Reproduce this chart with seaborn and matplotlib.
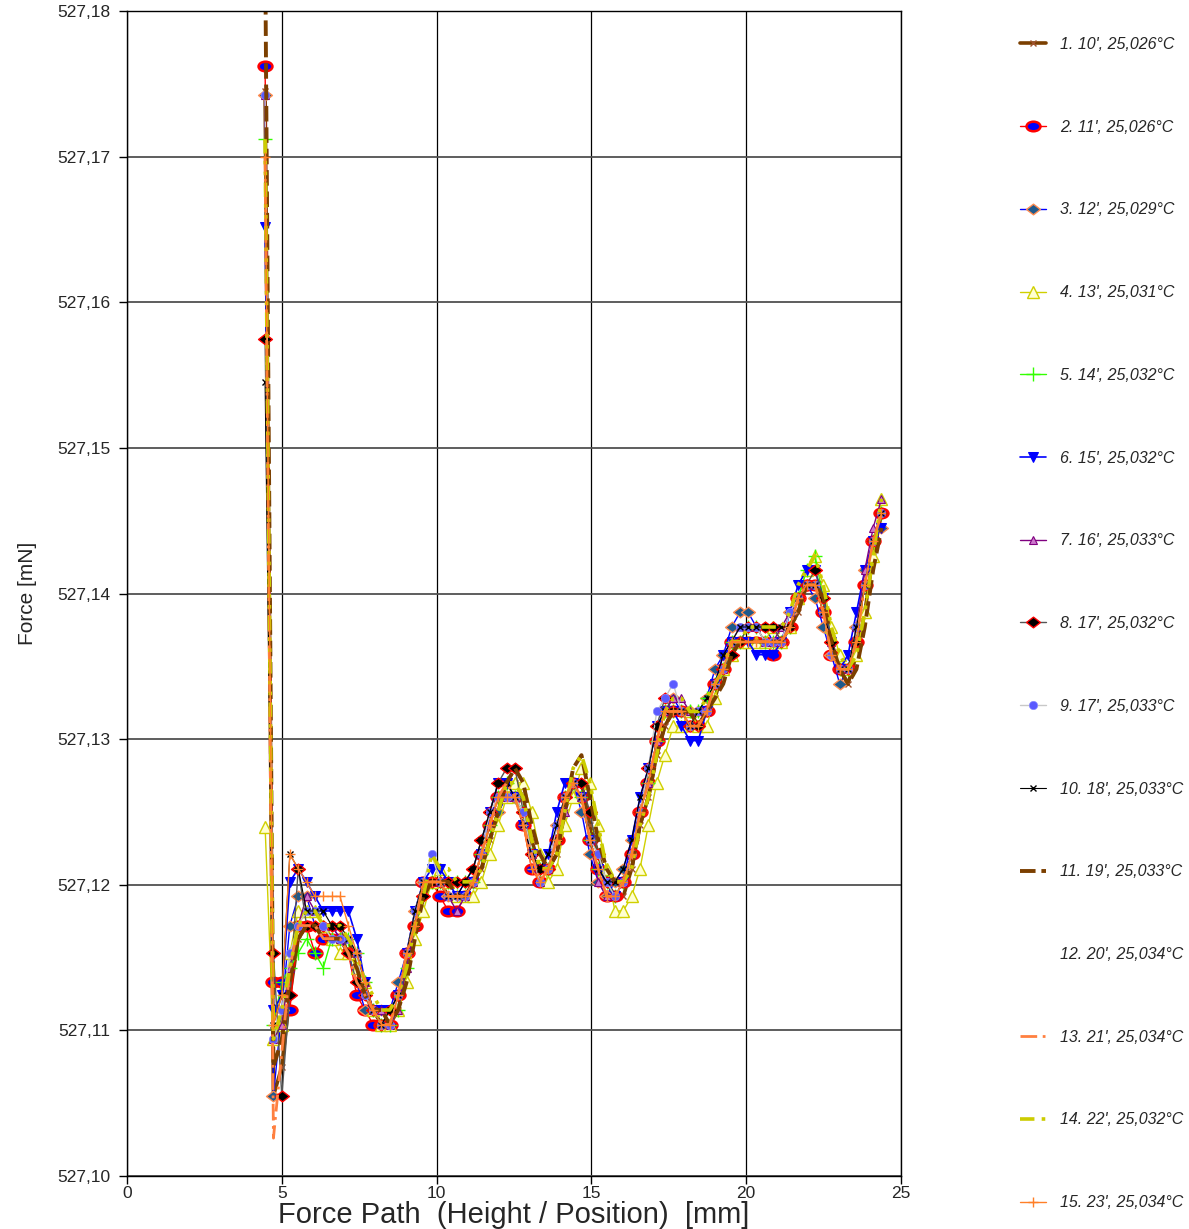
import matplotlib
matplotlib.use('Agg')
import matplotlib.pyplot as plt
import seaborn as sns
from matplotlib.lines import Line2D
from matplotlib.path import Path
from matplotlib.transforms import Affine2D
from matplotlib.ticker import FuncFormatter

# force path of the measuring points [mm]
path_mm = [4.46, 4.73, 5.00, 5.26, 5.53, 5.80, 6.07, 6.34, 6.61, 6.88,
           7.15, 7.42, 7.69, 7.95, 8.22, 8.49, 8.76, 9.03, 9.30, 9.57,
           9.84, 10.11, 10.38, 10.65, 10.92, 11.18, 11.45, 11.72, 11.99, 12.26,
           12.53, 12.80, 13.07, 13.34, 13.61, 13.88, 14.14, 14.41, 14.68, 14.95,
           15.22, 15.49, 15.76, 16.03, 16.30, 16.57, 16.84, 17.11, 17.37, 17.64,
           17.91, 18.18, 18.45, 18.72, 18.99, 19.26, 19.53, 19.80, 20.06, 20.33,
           20.60, 20.87, 21.14, 21.41, 21.68, 21.95, 22.22, 22.49, 22.75, 23.02,
           23.29, 23.56, 23.83, 24.10, 24.37]

# force readings [mN], one list per run
force_1 = [527.1745,
           527.1055, 527.1075, 527.1124, 527.1163, 527.1172, 527.1172, 527.1172, 527.1163, 527.1163, 527.1163,
           527.1143, 527.1124, 527.1114, 527.1104, 527.1104, 527.1114, 527.1143, 527.1172, 527.1192, 527.1202,
           527.1202, 527.1192, 527.1192, 527.1192, 527.1202, 527.1211, 527.1231, 527.1250, 527.1270, 527.1270,
           527.1260, 527.1231, 527.1211, 527.1211, 527.1221, 527.1250, 527.1270, 527.1270, 527.1241, 527.1221,
           527.1202, 527.1192, 527.1192, 527.1211, 527.1241, 527.1260, 527.1289, 527.1309, 527.1319, 527.1319,
           527.1319, 527.1309, 527.1319, 527.1328, 527.1348, 527.1358, 527.1367, 527.1367, 527.1367, 527.1367,
           527.1367, 527.1367, 527.1377, 527.1387, 527.1406, 527.1406, 527.1397, 527.1367, 527.1348, 527.1338,
           527.1358, 527.1387, 527.1426, 527.1455]
force_2 = [527.1762,
           527.1133, 527.1133, 527.1114, 527.1172, 527.1172, 527.1153, 527.1163, 527.1163, 527.1163, 527.1153,
           527.1124, 527.1114, 527.1104, 527.1104, 527.1104, 527.1124, 527.1153, 527.1172, 527.1202, 527.1202,
           527.1192, 527.1182, 527.1182, 527.1192, 527.1202, 527.1221, 527.1241, 527.1260, 527.1260, 527.1260,
           527.1241, 527.1211, 527.1202, 527.1211, 527.1231, 527.1260, 527.1270, 527.1260, 527.1231, 527.1211,
           527.1192, 527.1192, 527.1202, 527.1221, 527.1250, 527.1270, 527.1299, 527.1319, 527.1319, 527.1319,
           527.1309, 527.1309, 527.1319, 527.1338, 527.1348, 527.1367, 527.1367, 527.1367, 527.1367, 527.1367,
           527.1358, 527.1367, 527.1377, 527.1397, 527.1406, 527.1406, 527.1387, 527.1358, 527.1348, 527.1348,
           527.1367, 527.1406, 527.1436, 527.1455]
force_3 = [527.1742,
           527.1055, 527.1114, 527.1172, 527.1192, 527.1192, 527.1172, 527.1172, 527.1172, 527.1163, 527.1153,
           527.1133, 527.1114, 527.1114, 527.1114, 527.1114, 527.1133, 527.1153, 527.1182, 527.1202, 527.1202,
           527.1202, 527.1192, 527.1192, 527.1202, 527.1211, 527.1231, 527.1250, 527.1250, 527.1260, 527.1260,
           527.1250, 527.1221, 527.1211, 527.1211, 527.1241, 527.1260, 527.1270, 527.1250, 527.1221, 527.1202,
           527.1192, 527.1202, 527.1211, 527.1231, 527.1250, 527.1280, 527.1309, 527.1319, 527.1328, 527.1319,
           527.1319, 527.1319, 527.1328, 527.1348, 527.1358, 527.1377, 527.1387, 527.1387, 527.1377, 527.1377,
           527.1367, 527.1367, 527.1387, 527.1397, 527.1406, 527.1397, 527.1377, 527.1358, 527.1338, 527.1348,
           527.1377, 527.1416, 527.1436, 527.1445]
force_4 = [527.1240,
           527.1094, 527.1104, 527.1153, 527.1182, 527.1182, 527.1182, 527.1172, 527.1163, 527.1153, 527.1153,
           527.1143, 527.1133, 527.1114, 527.1104, 527.1104, 527.1114, 527.1133, 527.1163, 527.1182, 527.1202,
           527.1211, 527.1202, 527.1192, 527.1192, 527.1192, 527.1202, 527.1221, 527.1241, 527.1260, 527.1270,
           527.1270, 527.1250, 527.1221, 527.1202, 527.1211, 527.1241, 527.1260, 527.1280, 527.1270, 527.1241,
           527.1211, 527.1182, 527.1182, 527.1192, 527.1211, 527.1241, 527.1270, 527.1289, 527.1309, 527.1309,
           527.1319, 527.1309, 527.1309, 527.1328, 527.1348, 527.1358, 527.1367, 527.1367, 527.1367, 527.1367,
           527.1377, 527.1367, 527.1377, 527.1397, 527.1416, 527.1426, 527.1406, 527.1377, 527.1358, 527.1348,
           527.1358, 527.1387, 527.1426, 527.1465]
force_5 = [527.1712,
           527.1104, 527.1133, 527.1143, 527.1153, 527.1163, 527.1153, 527.1143, 527.1163, 527.1163, 527.1163,
           527.1153, 527.1133, 527.1114, 527.1104, 527.1104, 527.1114, 527.1143, 527.1172, 527.1192, 527.1202,
           527.1202, 527.1202, 527.1202, 527.1202, 527.1202, 527.1221, 527.1241, 527.1260, 527.1270, 527.1260,
           527.1250, 527.1221, 527.1211, 527.1211, 527.1231, 527.1260, 527.1270, 527.1260, 527.1231, 527.1211,
           527.1202, 527.1192, 527.1202, 527.1221, 527.1250, 527.1270, 527.1299, 527.1319, 527.1319, 527.1319,
           527.1319, 527.1319, 527.1328, 527.1338, 527.1348, 527.1367, 527.1367, 527.1377, 527.1377, 527.1367,
           527.1367, 527.1367, 527.1377, 527.1397, 527.1416, 527.1426, 527.1397, 527.1367, 527.1348, 527.1348,
           527.1367, 527.1406, 527.1436, 527.1455]
force_6 = [527.1652,
           527.1114, 527.1124, 527.1202, 527.1211, 527.1202, 527.1192, 527.1182, 527.1182, 527.1182, 527.1182,
           527.1163, 527.1133, 527.1114, 527.1114, 527.1114, 527.1124, 527.1153, 527.1182, 527.1202, 527.1211,
           527.1211, 527.1202, 527.1192, 527.1192, 527.1202, 527.1221, 527.1250, 527.1270, 527.1270, 527.1260,
           527.1241, 527.1221, 527.1211, 527.1221, 527.1250, 527.1270, 527.1270, 527.1260, 527.1231, 527.1211,
           527.1202, 527.1192, 527.1202, 527.1231, 527.1260, 527.1280, 527.1309, 527.1319, 527.1319, 527.1309,
           527.1299, 527.1299, 527.1319, 527.1338, 527.1358, 527.1367, 527.1367, 527.1367, 527.1358, 527.1358,
           527.1358, 527.1367, 527.1387, 527.1406, 527.1416, 527.1416, 527.1397, 527.1367, 527.1348, 527.1358,
           527.1387, 527.1416, 527.1436, 527.1445]
force_7 = [527.1742,
           527.1094, 527.1104, 527.1143, 527.1172, 527.1192, 527.1182, 527.1172, 527.1172, 527.1163, 527.1163,
           527.1153, 527.1133, 527.1114, 527.1114, 527.1104, 527.1114, 527.1143, 527.1172, 527.1202, 527.1202,
           527.1202, 527.1192, 527.1182, 527.1192, 527.1202, 527.1221, 527.1241, 527.1260, 527.1260, 527.1260,
           527.1241, 527.1221, 527.1202, 527.1211, 527.1231, 527.1250, 527.1270, 527.1260, 527.1231, 527.1202,
           527.1192, 527.1192, 527.1202, 527.1221, 527.1250, 527.1270, 527.1299, 527.1319, 527.1328, 527.1328,
           527.1319, 527.1319, 527.1319, 527.1338, 527.1348, 527.1367, 527.1377, 527.1377, 527.1377, 527.1367,
           527.1367, 527.1377, 527.1387, 527.1397, 527.1406, 527.1406, 527.1387, 527.1367, 527.1348, 527.1348,
           527.1377, 527.1416, 527.1445, 527.1465]
force_8 = [527.1575,
           527.1153, 527.1055, 527.1124, 527.1211, 527.1172, 527.1172, 527.1172, 527.1172, 527.1172, 527.1153,
           527.1133, 527.1124, 527.1114, 527.1104, 527.1114, 527.1124, 527.1153, 527.1172, 527.1192, 527.1202,
           527.1202, 527.1202, 527.1202, 527.1202, 527.1211, 527.1231, 527.1250, 527.1270, 527.1280, 527.1280,
           527.1250, 527.1221, 527.1211, 527.1211, 527.1231, 527.1260, 527.1270, 527.1270, 527.1250, 527.1221,
           527.1202, 527.1192, 527.1202, 527.1221, 527.1250, 527.1280, 527.1309, 527.1328, 527.1319, 527.1319,
           527.1309, 527.1309, 527.1319, 527.1338, 527.1348, 527.1358, 527.1367, 527.1377, 527.1377, 527.1377,
           527.1377, 527.1367, 527.1377, 527.1397, 527.1406, 527.1416, 527.1397, 527.1367, 527.1348, 527.1348,
           527.1367, 527.1406, 527.1436, 527.1455]
force_9 = [527.1742,
           527.1094, 527.1114, 527.1153, 527.1172, 527.1182, 527.1182, 527.1172, 527.1163, 527.1163, 527.1163,
           527.1153, 527.1124, 527.1114, 527.1104, 527.1104, 527.1124, 527.1153, 527.1182, 527.1202, 527.1221,
           527.1202, 527.1192, 527.1192, 527.1192, 527.1202, 527.1221, 527.1250, 527.1260, 527.1260, 527.1260,
           527.1250, 527.1221, 527.1202, 527.1211, 527.1241, 527.1260, 527.1270, 527.1260, 527.1231, 527.1221,
           527.1202, 527.1192, 527.1202, 527.1221, 527.1250, 527.1280, 527.1319, 527.1328, 527.1338, 527.1319,
           527.1309, 527.1319, 527.1319, 527.1338, 527.1348, 527.1367, 527.1377, 527.1377, 527.1377, 527.1367,
           527.1367, 527.1367, 527.1387, 527.1397, 527.1406, 527.1406, 527.1387, 527.1358, 527.1348, 527.1348,
           527.1377, 527.1406, 527.1436, 527.1455]
force_10 = [527.1545,
            527.1104, 527.1124, 527.1221, 527.1211, 527.1182, 527.1182, 527.1182, 527.1172, 527.1172, 527.1163,
            527.1153, 527.1133, 527.1114, 527.1104, 527.1114, 527.1124, 527.1153, 527.1182, 527.1202, 527.1202,
            527.1202, 527.1192, 527.1192, 527.1202, 527.1211, 527.1231, 527.1250, 527.1270, 527.1270, 527.1260,
            527.1241, 527.1221, 527.1211, 527.1221, 527.1241, 527.1260, 527.1270, 527.1260, 527.1231, 527.1211,
            527.1202, 527.1202, 527.1211, 527.1231, 527.1260, 527.1280, 527.1309, 527.1319, 527.1319, 527.1319,
            527.1309, 527.1319, 527.1328, 527.1338, 527.1358, 527.1367, 527.1377, 527.1377, 527.1377, 527.1377,
            527.1377, 527.1377, 527.1377, 527.1397, 527.1406, 527.1406, 527.1387, 527.1367, 527.1348, 527.1348,
            527.1377, 527.1406, 527.1436, 527.1455]
force_11 = [527.1850,
            527.1075, 527.1094, 527.1133, 527.1163, 527.1172, 527.1172, 527.1163, 527.1163, 527.1163, 527.1153,
            527.1143, 527.1124, 527.1114, 527.1114, 527.1104, 527.1114, 527.1133, 527.1163, 527.1192, 527.1202,
            527.1202, 527.1202, 527.1192, 527.1192, 527.1202, 527.1211, 527.1231, 527.1250, 527.1270, 527.1280,
            527.1270, 527.1241, 527.1221, 527.1211, 527.1221, 527.1250, 527.1280, 527.1289, 527.1260, 527.1231,
            527.1211, 527.1202, 527.1202, 527.1211, 527.1241, 527.1260, 527.1289, 527.1309, 527.1319, 527.1319,
            527.1319, 527.1309, 527.1319, 527.1328, 527.1338, 527.1358, 527.1367, 527.1367, 527.1367, 527.1367,
            527.1367, 527.1367, 527.1377, 527.1387, 527.1406, 527.1406, 527.1397, 527.1367, 527.1348, 527.1338,
            527.1348, 527.1377, 527.1416, 527.1445]
force_13 = [527.1700,
            527.1026, 527.1085, 527.1143, 527.1172, 527.1172, 527.1172, 527.1163, 527.1163, 527.1163, 527.1153,
            527.1133, 527.1124, 527.1114, 527.1104, 527.1104, 527.1124, 527.1153, 527.1172, 527.1202, 527.1202,
            527.1202, 527.1192, 527.1192, 527.1192, 527.1202, 527.1221, 527.1241, 527.1260, 527.1270, 527.1260,
            527.1241, 527.1221, 527.1202, 527.1211, 527.1231, 527.1260, 527.1270, 527.1260, 527.1231, 527.1211,
            527.1192, 527.1192, 527.1202, 527.1221, 527.1250, 527.1270, 527.1299, 527.1319, 527.1319, 527.1319,
            527.1309, 527.1309, 527.1319, 527.1338, 527.1348, 527.1367, 527.1367, 527.1367, 527.1367, 527.1367,
            527.1367, 527.1367, 527.1377, 527.1397, 527.1406, 527.1406, 527.1387, 527.1358, 527.1348, 527.1348,
            527.1367, 527.1406, 527.1436, 527.1455]
force_14 = [527.1712,
            527.1094, 527.1114, 527.1143, 527.1172, 527.1182, 527.1182, 527.1172, 527.1172, 527.1172, 527.1163,
            527.1153, 527.1133, 527.1124, 527.1114, 527.1114, 527.1124, 527.1143, 527.1172, 527.1192, 527.1221,
            527.1211, 527.1211, 527.1202, 527.1202, 527.1202, 527.1211, 527.1231, 527.1250, 527.1270, 527.1270,
            527.1260, 527.1231, 527.1211, 527.1211, 527.1221, 527.1250, 527.1280, 527.1289, 527.1270, 527.1241,
            527.1211, 527.1202, 527.1202, 527.1211, 527.1241, 527.1260, 527.1289, 527.1319, 527.1328, 527.1328,
            527.1319, 527.1319, 527.1328, 527.1338, 527.1348, 527.1367, 527.1367, 527.1377, 527.1377, 527.1377,
            527.1377, 527.1377, 527.1387, 527.1406, 527.1416, 527.1426, 527.1406, 527.1377, 527.1358, 527.1348,
            527.1358, 527.1387, 527.1426, 527.1465]
force_15 = [527.1700,
            527.1104, 527.1124, 527.1221, 527.1211, 527.1202, 527.1192, 527.1192, 527.1192, 527.1192, 527.1172,
            527.1153, 527.1133, 527.1114, 527.1104, 527.1104, 527.1124, 527.1153, 527.1172, 527.1202, 527.1202,
            527.1202, 527.1192, 527.1192, 527.1192, 527.1202, 527.1221, 527.1241, 527.1260, 527.1260, 527.1260,
            527.1241, 527.1211, 527.1202, 527.1211, 527.1231, 527.1260, 527.1270, 527.1260, 527.1231, 527.1211,
            527.1192, 527.1192, 527.1202, 527.1221, 527.1250, 527.1270, 527.1299, 527.1319, 527.1319, 527.1319,
            527.1309, 527.1309, 527.1319, 527.1338, 527.1348, 527.1367, 527.1367, 527.1367, 527.1367, 527.1367,
            527.1367, 527.1367, 527.1377, 527.1397, 527.1406, 527.1406, 527.1387, 527.1358, 527.1348, 527.1348,
            527.1367, 527.1406, 527.1436, 527.1455]

run_labels = ["1. 10', 25,026°C", "2. 11', 25,026°C", "3. 12', 25,029°C",
              "4. 13', 25,031°C", "5. 14', 25,032°C", "6. 15', 25,032°C",
              "7. 16', 25,033°C", "8. 17', 25,032°C", "9. 17', 25,033°C",
              "10. 18', 25,033°C", "11. 19', 25,033°C", "12. 20', 25,034°C",
              "13. 21', 25,034°C", "14. 22', 25,032°C", "15. 23', 25,034°C"]

y_ticks = [527.10, 527.11, 527.12, 527.13, 527.14, 527.15, 527.16, 527.17, 527.18]
x_ticks = [0, 5, 10, 15, 20, 25]

sns.set_style('white')
plt.rcParams['font.family'] = ['Liberation Sans', 'DejaVu Sans']

# wide ellipse / wide diamond markers like the original software draws them
wide_ellipse = Path.unit_circle().transformed(Affine2D().scale(1.45, 1.0))
wide_diamond = Path([(-1.3, 0), (0, 1), (1.3, 0), (0, -1), (-1.3, 0)],
                    [Path.MOVETO, Path.LINETO, Path.LINETO, Path.LINETO, Path.CLOSEPOLY])

# line style for every run (run 12 has no visible line)
styles = {
    1: dict(color='#7b3f00', lw=2.6, marker='x', ms=5, mec='#a0522d', mew=1.0),
    2: dict(color='#ff0000', lw=1.0, marker=wide_ellipse, ms=10, mfc='#0000ff', mec='#ff0000', mew=1.8),
    3: dict(color='#0000ff', lw=1.0, marker=wide_diamond, ms=10, mfc='#1f5a8c', mec='#ff8c50', mew=1.0),
    4: dict(color='#d0d000', lw=1.0, marker='^', ms=8, mfc='#ffffd0', mec='#d0d000', mew=1.0),
    5: dict(color='#33ff00', lw=1.0, marker='+', ms=10, mec='#33ff00', mew=1.0),
    6: dict(color='#0000ff', lw=1.2, marker='v', ms=7, mfc='#0000ff', mec='#0000ff'),
    7: dict(color='#800080', lw=1.0, marker='^', ms=6, mfc='#cc77cc', mec='#800080', mew=0.8),
    8: dict(color='#555555', lw=1.0, marker=wide_diamond, ms=10, mfc='#000000', mec='#ff0000', mew=1.0),
    9: dict(color='#c8c8c8', lw=1.0, marker='o', ms=6, mfc='#5a5aff', mec='#8a8aff', mew=0.5),
    10: dict(color='#000000', lw=0.8, marker='x', ms=4.5, mec='#000000', mew=1.0),
    11: dict(color='#7b3f00', lw=2.8, ls=(0, (4, 1.5))),
    13: dict(color='#ff8040', lw=2.0, ls=(0, (6, 2, 1, 2))),
    14: dict(color='#cccc00', lw=2.6, ls=(0, (4, 2, 1, 2, 1, 2))),
    15: dict(color='#ff7f27', lw=1.0, marker='+', ms=7, mec='#ff7f27', mew=1.0),
}
runs = {1: force_1, 2: force_2, 3: force_3, 4: force_4, 5: force_5,
        6: force_6, 7: force_7, 8: force_8, 9: force_9, 10: force_10,
        11: force_11, 13: force_13, 14: force_14, 15: force_15}

fig = plt.figure(figsize=(11.89, 12.29), dpi=100)
ax = fig.add_axes([127 / 1189, 53 / 1229, 774 / 1189, 1165 / 1229])

for n, force in runs.items():
    sns.lineplot(x=path_mm, y=force, ax=ax, estimator=None, sort=False,
                 legend=False, label=run_labels[n - 1], **styles[n])

ax.set_xlim(0, 25)
ax.set_ylim(527.10, 527.18)
ax.set_xticks(x_ticks)
ax.set_yticks(y_ticks)
ax.yaxis.set_major_formatter(FuncFormatter(lambda v, p: f'{v:.2f}'.replace('.', ',')))
ax.tick_params(direction='out', length=6, width=1, color='black', labelsize=12.5,
               left=True, bottom=True)
ax.tick_params(axis='y', pad=6)
ax.tick_params(axis='x', pad=1)
ax.grid(axis='x', color='black', lw=0.9)
ax.grid(axis='y', color='#505050', lw=1.3)
ax.set_axisbelow(True)
for sp in ax.spines.values():
    sp.set_color('black')
    sp.set_linewidth(1.0)

ax.set_xlabel('Force Path  (Height / Position)  [mm]', fontsize=21)
ax.xaxis.set_label_coords(0.5, -0.0215)
ax.set_ylabel('Force [mN]', fontsize=15)
ax.yaxis.set_label_coords(-0.116, 0.5)

if ax.get_legend() is not None:
    ax.get_legend().remove()
handles, labels = ax.get_legend_handles_labels()
handles.insert(11, Line2D([], [], ls='none'))
labels.insert(11, run_labels[11])
fig.legend(handles, labels, loc='upper left', bbox_to_anchor=(1020 / 1189, 1 - 37 / 1229),
           frameon=False, prop=dict(style='italic', size=11.5), handlelength=1.6,
           handletextpad=0.9, labelspacing=4.24, borderpad=0, borderaxespad=0)

fig.savefig('out.png', dpi=100)
